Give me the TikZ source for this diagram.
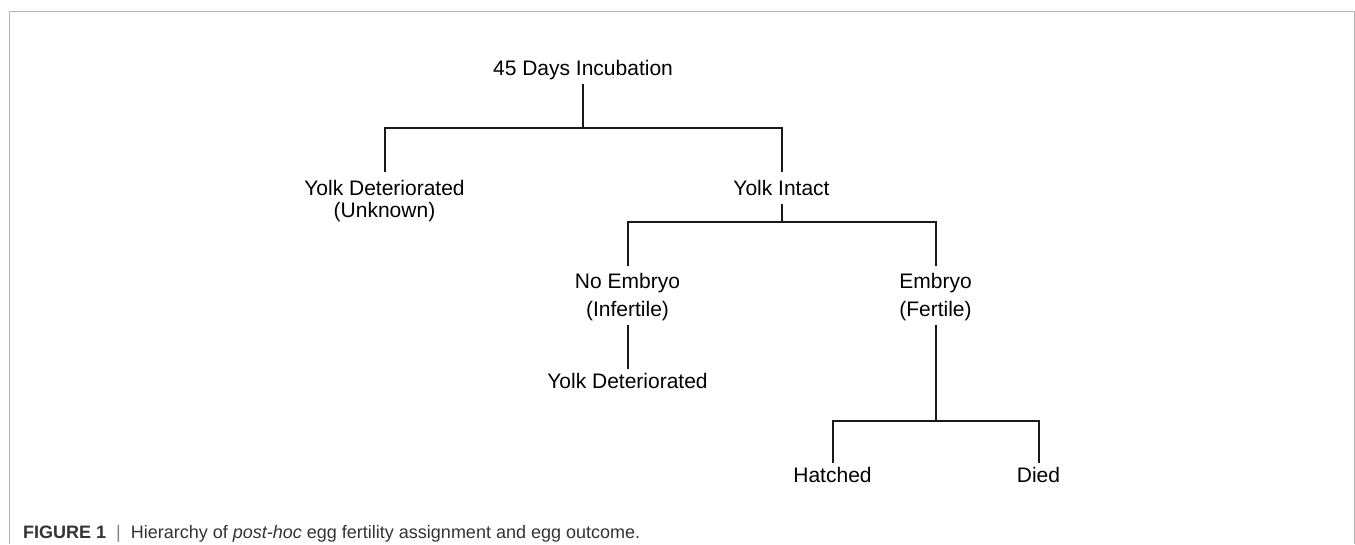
\documentclass[tikz,border=0pt]{standalone}
\usepackage{fontspec}
\setmainfont{Liberation Sans}
\usepackage{tikz}
\definecolor{framegray}{HTML}{B4B4B4}
\definecolor{captext}{HTML}{333333}

\begin{document}
\begin{tikzpicture}[x=1pt,y=1pt,
	lbl/.style={anchor=north,align=center,inner sep=0pt,outer sep=4pt,font=\fontsize{21}{22.5}\selectfont},
	oneline/.style={text depth=5pt},
	edge from parent/.style={draw,line width=2pt,color=black!90},
	level 1/.style={sibling distance=397pt,level distance=106pt,
		edge from parent path={(\tikzparentnode.south) -- ++(0,-44pt) -| ([yshift=4pt]\tikzchildnode.north)}},
	level 2/.style={sibling distance=308pt,level distance=79pt,
		edge from parent path={(\tikzparentnode.south) -- ++(0,-18pt) -| ([yshift=3pt]\tikzchildnode.north)}},
	level 3/.style={sibling distance=206pt,level distance=166pt,
		edge from parent path={(\tikzparentnode.south) -- ++(0,-96.5pt) -| (\tikzchildnode.north)}}]
	\useasboundingbox (0,0) rectangle (1355,544);
	% frame round the figure, open at the bottom
	\draw[framegray,line width=1pt] (9,0) |- (1354,532) -- (1354,0);
		\node [lbl,oneline] (inc) at (583,488) {45 Days Incubation}
		  child {
		  	node [lbl] (ydu) {Yolk Deteriorated\\(Unknown)}
		  }
		  child {
		  	node [lbl,oneline] (yi) {Yolk Intact}
		    child {
			    node [lbl] (ne) {No Embryo\\[5.5pt](Infertile)}
			    child [level distance=72pt,edge from parent path={(\tikzparentnode.south) -- (\tikzchildnode.north)}] {
			    	node [lbl,oneline] (ydi) {Yolk Deteriorated}
			    }
		    }
		    child {
		    	node [lbl] (em) {Embryo\\[5.5pt](Fertile)}
		      	child {
		      		node [lbl,oneline] (ha) {Hatched}
		   		}
		      	child {
		    		node [lbl,oneline] (di) {Died}
		   		}
		   	}
		  };
	% caption
	\node [anchor=base west,inner sep=0pt,text=captext,font=\fontsize{18}{21}\selectfont] (cap) at (23,6)
		{\textbf{FIGURE 1}\ \ {\color{gray}|}\ \ Hierarchy of \textit{post-hoc} egg fertility assignment and egg outcome.};
\end{tikzpicture}
\end{document}
